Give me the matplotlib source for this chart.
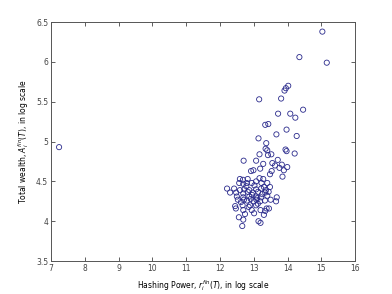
import matplotlib
matplotlib.use("Agg")
import matplotlib.pyplot as plt

# hashing power (log) and total wealth (log) per miner
hash_power = [7.24, 15.03, 14.35, 15.16, 14.02, 13.91, 13.95, 13.16, 13.81, 14.46,
              13.72, 14.08, 14.23, 13.34, 13.43, 13.97, 13.67, 14.27, 13.14,
              13.37, 13.94,
              13.35, 13.40, 13.97, 14.21, 13.17, 13.42, 13.52, 12.70, 13.07, 13.28,
              13.55, 13.71, 13.83, 13.63, 13.99, 13.19, 12.92, 12.99, 13.53, 13.89,
              13.76, 13.48, 13.85, 12.59, 12.68, 12.82, 13.17, 13.28, 12.94, 12.57,
              12.69, 12.79, 13.07, 13.23, 13.40, 13.30, 12.21, 12.42, 12.59, 12.72,
              12.87, 13.07, 13.22, 13.48, 12.30, 12.48, 12.69, 12.82, 12.97, 13.13,
              13.34, 13.44, 12.50, 12.69, 12.87, 13.07, 13.22, 13.40, 13.68, 12.53,
              12.71, 12.80, 12.91, 13.08, 13.19, 13.33, 13.50, 13.66, 12.45, 12.67,
              12.89, 13.07, 13.38, 13.45, 12.47, 12.69, 12.94, 13.20, 13.34, 12.74,
              13.01, 13.30, 12.56, 12.69, 13.14, 13.20, 12.66,
              12.95, 13.02, 13.12, 13.25, 12.78, 12.62, 13.10, 13.36, 12.85, 13.00]
total_wealth = [4.93, 6.38, 6.06, 5.99, 5.70, 5.64, 5.67, 5.53, 5.54, 5.40,
                5.35, 5.35, 5.30, 5.21, 5.22, 5.15, 5.09, 5.07, 5.04,
                4.98, 4.90,
                4.91, 4.89, 4.88, 4.85, 4.84, 4.83, 4.84, 4.76, 4.76, 4.72,
                4.73, 4.77, 4.71, 4.70, 4.68, 4.66, 4.63, 4.64, 4.63, 4.64,
                4.67, 4.59, 4.56, 4.53, 4.52, 4.53, 4.54, 4.53, 4.48, 4.48,
                4.47, 4.48, 4.50, 4.48, 4.48, 4.43, 4.41, 4.41, 4.39, 4.40,
                4.39, 4.40, 4.41, 4.43, 4.36, 4.36, 4.35, 4.37, 4.36, 4.37,
                4.36, 4.37, 4.31, 4.30, 4.31, 4.31, 4.30, 4.32, 4.30, 4.27,
                4.27, 4.26, 4.28, 4.27, 4.25, 4.26, 4.27, 4.25, 4.19, 4.20,
                4.20, 4.20, 4.16, 4.16, 4.16, 4.14, 4.14, 4.14, 4.13, 4.09,
                4.10, 4.08, 4.05, 4.02, 4.00, 3.98, 3.94,
                4.33, 4.45, 4.22, 4.34, 4.44, 4.24, 4.29, 4.39, 4.18, 4.25]

fig = plt.figure(figsize=(3.92, 2.94), dpi=100)
ax = fig.add_axes([0.130, 0.112, 0.776, 0.813])

ax.scatter(hash_power, total_wealth, s=14, facecolors='none',
           edgecolors='#2a2a8c', linewidths=0.6)

ax.set_xlim(7, 16)
ax.set_ylim(3.5, 6.5)
ax.set_xticks(range(7, 17))
ax.set_yticks([3.5, 4, 4.5, 5, 5.5, 6, 6.5])
ax.set_yticklabels(['3.5', '4', '4.5', '5', '5.5', '6', '6.5'])
ax.tick_params(direction='in', top=True, right=True, labelsize=5.5,
               length=3, width=0.6, colors='#444444', pad=2)
for s in ax.spines.values():
    s.set_linewidth(0.7)
    s.set_color('#555555')

ax.set_xlabel(r'Hashing Power, $r_i^{fin}(T)$, in log scale', fontsize=5.5, labelpad=4)
ax.set_ylabel(r'Total wealth, $A_i^{fin}(T)$, in log scale', fontsize=5.5, labelpad=4)

fig.savefig('out.png', dpi=100)
